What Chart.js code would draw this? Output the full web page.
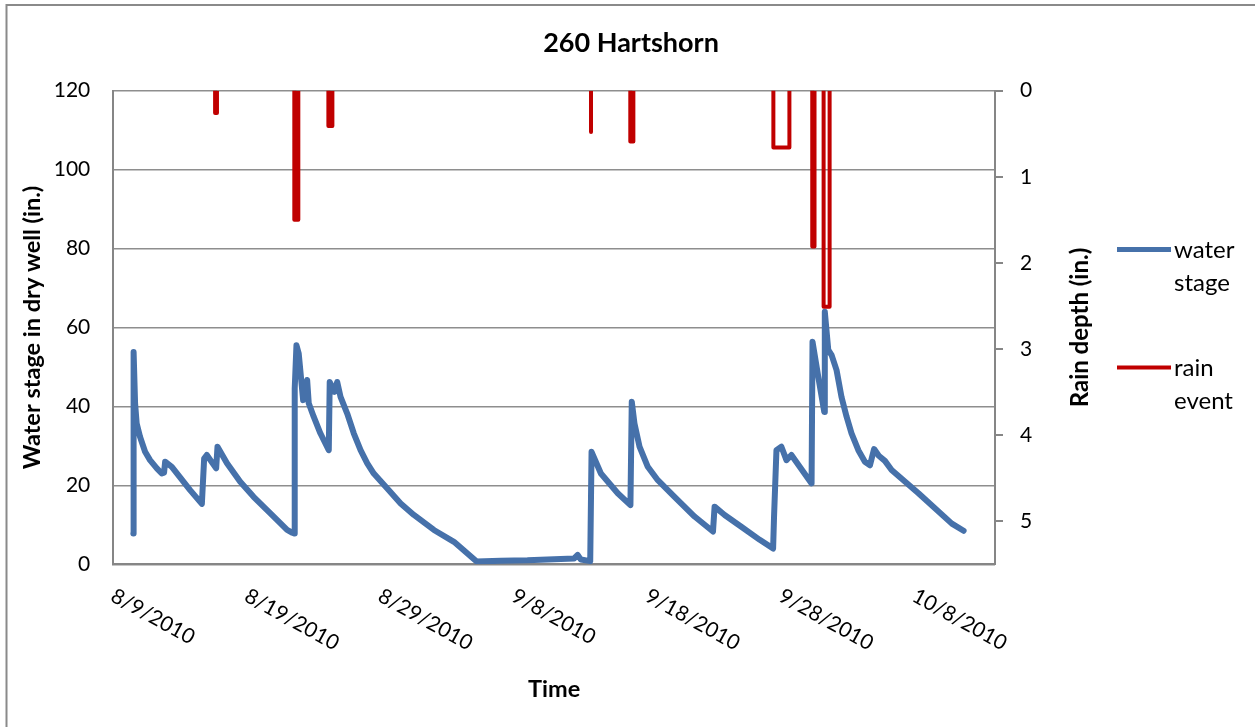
<!DOCTYPE html>
<html>
<head>
<meta charset="utf-8">
<title>260 Hartshorn</title>
<script src="https://cdn.jsdelivr.net/npm/chart.js@4.4.1/dist/chart.umd.min.js"></script>
<style>
    html, body { margin: 0; padding: 0; background: #fff; overflow: hidden; }
</style>
</head>
<body>
<canvas id="myChart" width="1255" height="727"></canvas>
<script>
// x values are days after 8/9/2010
const startYear = 2010, startMonth = 7, startDay = 9;

const waterDays = [
    1.50, 1.52, 1.63, 1.75, 2.00, 2.38, 2.75, 3.26, 3.63, 3.80, 3.88, 4.38, 5.75, 6.63, 6.80, 7.00,
    7.70, 7.80, 8.51, 9.50, 10.50, 11.76, 13.01, 13.40, 13.55, 13.58, 13.71, 13.88, 14.21, 14.51, 14.63,
    15.00, 15.50, 16.13, 16.20, 16.56, 16.76, 17.01, 17.51, 18.00, 18.51, 19.01, 19.50, 20.51, 21.51, 22.50,
    24.00, 25.50, 27.20, 29.00, 31.00, 33.00, 34.50, 34.76, 35.00, 35.70, 35.80, 36.50, 37.76, 38.71, 38.81,
    39.01, 39.39, 40.01, 40.76, 42.01, 43.51, 44.89, 45.01, 45.76, 47.01, 48.39, 49.39, 49.46, 49.64, 50.01,
    50.39, 50.76, 52.27, 52.34, 52.77, 53.22, 53.26, 53.52, 53.77, 54.14, 54.51, 54.89, 55.26, 55.77, 56.26,
    56.64, 56.95, 57.30, 57.76, 58.26, 60.27, 62.77, 63.65
];
const waterStage = [
    7.8, 53.8, 40.8, 35.7, 32.3, 28.5, 26.4, 24.3, 23.0, 23.2, 26.0, 24.7, 18.8, 15.3, 26.8, 27.7,
    24.3, 29.8, 25.6, 20.9, 17.1, 12.9, 8.7, 8.0, 7.8, 44.6, 55.5, 53.4, 41.6, 46.7, 40.8,
    37.4, 33.2, 28.9, 46.2, 43.7, 46.2, 42.4, 38.2, 33.2, 28.9, 25.6, 23.0, 19.2, 15.4, 12.5,
    8.7, 5.7, 0.7, 0.9, 1.0, 1.3, 1.5, 2.4, 1.2, 0.8, 28.5, 23.0, 18.0, 15.0, 41.2,
    35.7, 29.8, 24.7, 21.3, 17.1, 12.1, 8.3, 14.6, 12.5, 9.5, 6.2, 4.0, 12.1, 28.9, 29.8,
    26.4, 27.7, 20.5, 56.4, 47.5, 38.6, 64.0, 54.3, 53.0, 49.2, 42.4, 37.4, 33.2, 28.9, 26.0,
    25.1, 29.2, 27.5, 26.2, 23.9, 18.0, 10.3, 8.5
];

const rainStart = [7.62, 13.55, 16.10, 35.76, 38.70, 49.41, 52.32, 53.17];
const rainEnd = [7.76, 13.85, 16.40, 35.76, 38.93, 50.61, 52.49, 53.62];
const rainDepth = [0.26, 1.50, 0.41, 0.48, 0.59, 0.66, 1.81, 2.51];

const stageTicks = [0, 120, 20];
const rainTicks = [0, 5.5, 1];
const dayTicks = [0, 66, 10];

const blue = '#4671AA';
const red = '#C00000';
const axisGray = '#868686';
const fontFamily = 'Lato, "Open Sans", sans-serif';

function dateLabel(d) {
    let dt = new Date(startYear, startMonth, startDay + d);
    return (dt.getMonth() + 1) + '/' + dt.getDate() + '/' + dt.getFullYear();
}

let waterPoints = [];
for (let i = 0; i < waterDays.length; i++) {
    waterPoints.push({x: waterDays[i], y: waterStage[i]});
}

let rainPoints = [];
for (let i = 0; i < rainStart.length; i++) {
    rainPoints.push({x: rainStart[i], y: 0});
    rainPoints.push({x: rainStart[i], y: rainDepth[i]});
    rainPoints.push({x: rainEnd[i], y: rainDepth[i]});
    rainPoints.push({x: rainEnd[i], y: 0});
    rainPoints.push({x: rainEnd[i], y: null});
}

Chart.defaults.font.family = fontFamily;
Chart.defaults.color = '#000';

// frame, rotated date labels, right axis title and legend
const extras = {
    id: 'extras',
    beforeDraw(chart) {
        const ctx = chart.ctx;
        ctx.save();
        ctx.strokeStyle = '#8a8a8a';
        ctx.lineWidth = 2;
        ctx.beginPath();
        ctx.moveTo(6.5, chart.height + 5);
        ctx.lineTo(6.5, 5);
        ctx.lineTo(chart.width + 5, 5);
        ctx.stroke();
        ctx.restore();
    },
    afterDraw(chart) {
        const ctx = chart.ctx;
        const area = chart.chartArea;
        const xs = chart.scales.x;
        ctx.save();
        ctx.fillStyle = '#000';

        ctx.font = '21px ' + fontFamily;
        ctx.textAlign = 'left';
        ctx.textBaseline = 'alphabetic';
        for (let t of xs.ticks) {
            let px = xs.getPixelForValue(t.value);
            ctx.save();
            ctx.translate(px - 4, area.bottom + 36);
            ctx.rotate(29 * Math.PI / 180);
            ctx.fillText(dateLabel(t.value), 0, 0);
            ctx.restore();
        }

        let midY = (area.top + area.bottom) / 2;
        ctx.save();
        ctx.font = 'bold 24px ' + fontFamily;
        ctx.textAlign = 'center';
        ctx.textBaseline = 'middle';
        ctx.translate(area.right + 85, midY);
        ctx.rotate(-Math.PI / 2);
        ctx.fillText('Rain depth (in.)', 0, 0);
        ctx.restore();

        let offsets = [-78, 40];
        chart.data.datasets.forEach((ds, i) => {
            let y = midY + offsets[i];
            let x0 = area.right + 122;
            ctx.strokeStyle = ds.borderColor;
            ctx.lineWidth = i === 0 ? 5 : 4;
            ctx.beginPath();
            ctx.moveTo(x0, y);
            ctx.lineTo(x0 + 54, y);
            ctx.stroke();
            ctx.font = '24px ' + fontFamily;
            ctx.textAlign = 'left';
            ctx.textBaseline = 'middle';
            let words = ds.label.split(' ');
            words.forEach((w, j) => ctx.fillText(w, x0 + 57, y + 1 + j * 32.5));
        });
        ctx.restore();
    }
};

const config = {
    type: 'line',
    data: {
        datasets: [
            {
                label: 'water stage',
                data: waterPoints,
                yAxisID: 'y',
                borderColor: blue,
                backgroundColor: blue,
                borderWidth: 6,
                borderJoinStyle: 'round',
                borderCapStyle: 'round',
                pointRadius: 0,
                tension: 0,
                order: 2
            },
            {
                label: 'rain event',
                data: rainPoints,
                yAxisID: 'y1',
                borderColor: red,
                backgroundColor: red,
                borderWidth: 4,
                borderJoinStyle: 'round',
                borderCapStyle: 'butt',
                pointRadius: 0,
                tension: 0,
                spanGaps: false,
                order: 1
            }
        ]
    },
    options: {
        responsive: false,
        animation: false,
        devicePixelRatio: 1,
        layout: { padding: { left: 7, right: 0, top: 4, bottom: 0 } },
        plugins: {
            title: {
                display: true,
                text: '260 Hartshorn',
                color: '#000',
                font: { size: 27, weight: 'bold' },
                padding: { top: 22.8, bottom: 31.5 }
            },
            legend: { display: false },
            tooltip: { enabled: false }
        },
        scales: {
            x: {
                type: 'linear',
                min: dayTicks[0],
                max: dayTicks[1],
                ticks: { display: false, stepSize: dayTicks[2], includeBounds: false },
                grid: { display: false },
                border: { color: axisGray, width: 2 },
                title: {
                    display: true,
                    text: 'Time',
                    color: '#000',
                    font: { size: 23.5, weight: 'bold' },
                    padding: { top: 0, bottom: 23.9 }
                },
                afterFit: s => { s.height = 162.7; }
            },
            y: {
                position: 'left',
                min: stageTicks[0],
                max: stageTicks[1],
                ticks: { stepSize: stageTicks[2], padding: 23, color: '#000', font: { size: 21 } },
                grid: { color: '#8e8e8e', lineWidth: 1.5, drawTicks: false },
                border: { color: axisGray, width: 2 },
                title: {
                    display: true,
                    text: 'Water stage in dry well (in.)',
                    color: '#000',
                    font: { size: 23.5, weight: 'bold' },
                    padding: { top: 10.9, bottom: 0 }
                },
                afterFit: s => { s.width = 106.3; }
            },
            y1: {
                position: 'right',
                min: rainTicks[0],
                max: rainTicks[1],
                reverse: true,
                ticks: { stepSize: rainTicks[2], includeBounds: false, padding: 17, color: '#000', font: { size: 21 } },
                grid: { drawOnChartArea: false, drawTicks: true, tickLength: 8, color: axisGray, lineWidth: 2 },
                border: { color: axisGray, width: 2 },
                afterFit: s => { s.width = 260; }
            }
        }
    },
    plugins: [extras]
};

const myChart = new Chart(document.getElementById('myChart'), config);
</script>
</body>
</html>
